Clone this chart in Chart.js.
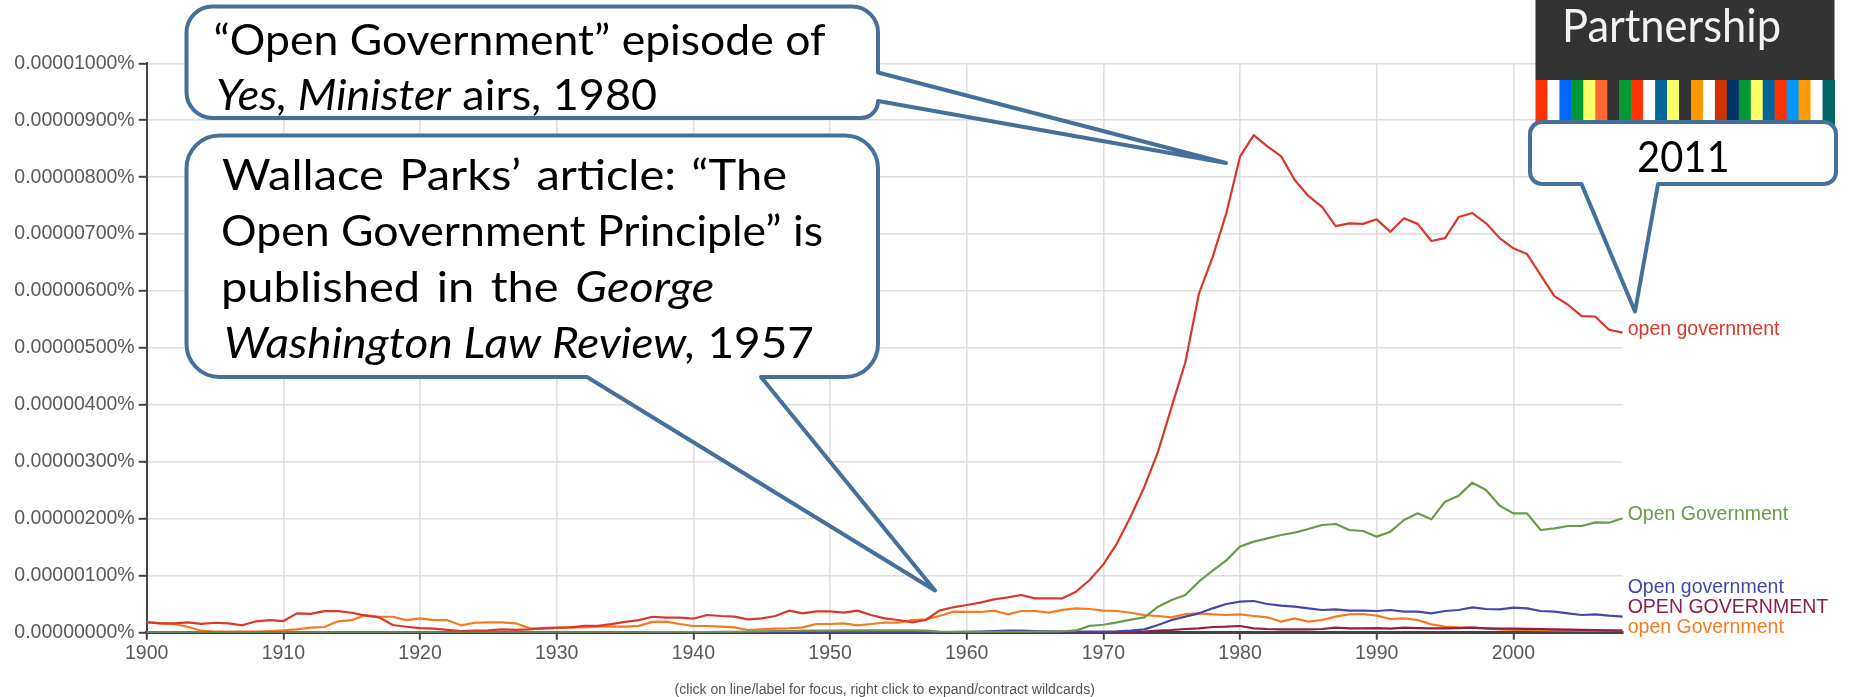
<!DOCTYPE html>
<html>
<head>
<meta charset="utf-8">
<script src="https://cdn.jsdelivr.net/npm/chart.js@4.4.1/dist/chart.umd.min.js"></script>
<style>
  html, body { margin: 0; padding: 0; background: #fff; }
  #wrap { position: relative; width: 1851px; height: 697px; }
</style>
</head>
<body>
<div id="wrap"><canvas id="ngram"></canvas></div>
<script>
// Years on the x axis, 1900..2008
const years = Array.from({ length: 109 }, (_, i) => 1900 + i);
const xTickYears = [1900, 1910, 1920, 1930, 1940, 1950, 1960, 1970, 1980, 1990, 2000];
// y values are in millionths of a percent (10 -> 0.00001000%)
const yTickValues = [0, 1, 2, 3, 4, 5, 6, 7, 8, 9, 10];

const seriesLabels = ['open government', 'Open Government', 'Open government', 'OPEN GOVERNMENT', 'open Government'];
const seriesColors = ['#d9382c', '#6a9a4b', '#4646a8', '#8c1f4e', '#f47b20'];

// "open government"
const openGovLower = [
  0.18, 0.165, 0.165, 0.18, 0.155, 0.175, 0.165, 0.13, 0.2, 0.22,
  0.205, 0.34, 0.33, 0.38, 0.38, 0.35, 0.30, 0.27, 0.135, 0.105,
  0.08, 0.07, 0.05, 0.03, 0.035, 0.04, 0.06, 0.05, 0.06, 0.08,
  0.09, 0.095, 0.12, 0.12, 0.15, 0.19, 0.22, 0.28, 0.264, 0.264,
  0.246, 0.311, 0.293, 0.282, 0.235, 0.252, 0.293, 0.387, 0.34, 0.375,
  0.375, 0.352, 0.387, 0.311, 0.252, 0.223, 0.182, 0.223, 0.387, 0.446,
  0.486, 0.527, 0.586, 0.621, 0.662, 0.604, 0.604, 0.604, 0.72, 0.925,
  1.2, 1.57, 2.04, 2.56, 3.18, 3.97, 4.75, 5.96, 6.6, 7.37,
  8.36, 8.74, 8.54, 8.37, 7.95, 7.67, 7.48, 7.14, 7.19, 7.18,
  7.26, 7.04, 7.28, 7.18, 6.88, 6.93, 7.30, 7.37, 7.19, 6.93,
  6.75, 6.65, 6.28, 5.91, 5.76, 5.56, 5.55, 5.32, 5.27
];

// "Open Government"
const openGovTitle = [
  0.004, 0.004, 0.005, 0.005, 0.004, 0.004, 0.005, 0.005, 0.004, 0.005,
  0.005, 0.006, 0.006, 0.005, 0.005, 0.006, 0.006, 0.005, 0.005, 0.005,
  0.005, 0.005, 0.004, 0.004, 0.005, 0.005, 0.005, 0.005, 0.005, 0.005,
  0.005, 0.006, 0.006, 0.007, 0.007, 0.008, 0.008, 0.009, 0.01, 0.01,
  0.012, 0.012, 0.014, 0.016, 0.02, 0.025, 0.03, 0.03, 0.035, 0.035,
  0.035, 0.04, 0.04, 0.04, 0.04, 0.04, 0.04, 0.035, 0.02, 0.015,
  0.015, 0.015, 0.015, 0.015, 0.015, 0.02, 0.02, 0.025, 0.04, 0.12,
  0.14, 0.18, 0.23, 0.27, 0.457, 0.574, 0.662, 0.9, 1.09, 1.27,
  1.515, 1.599, 1.657, 1.716, 1.757, 1.821, 1.891, 1.909, 1.804, 1.786,
  1.687, 1.774, 1.979, 2.096, 1.991, 2.301, 2.407, 2.635, 2.506, 2.231,
  2.096, 2.096, 1.804, 1.833, 1.874, 1.874, 1.938, 1.932, 2.009
];

// "Open government"
const openGovSentence = [
  0.003, 0.003, 0.003, 0.003, 0.003, 0.003, 0.003, 0.003, 0.003, 0.003,
  0.003, 0.003, 0.003, 0.003, 0.003, 0.003, 0.003, 0.003, 0.003, 0.003,
  0.003, 0.003, 0.003, 0.003, 0.003, 0.003, 0.003, 0.003, 0.003, 0.003,
  0.003, 0.003, 0.003, 0.003, 0.003, 0.003, 0.003, 0.003, 0.003, 0.003,
  0.003, 0.003, 0.003, 0.003, 0.003, 0.003, 0.003, 0.003, 0.003, 0.003,
  0.003, 0.003, 0.004, 0.004, 0.004, 0.005, 0.005, 0.006, 0.008, 0.01,
  0.015, 0.02, 0.03, 0.035, 0.035, 0.03, 0.025, 0.02, 0.02, 0.02,
  0.02, 0.025, 0.036, 0.059, 0.135, 0.223, 0.282, 0.34, 0.428, 0.504,
  0.545, 0.557, 0.504, 0.475, 0.457, 0.428, 0.399, 0.41, 0.387, 0.387,
  0.381, 0.399, 0.369, 0.369, 0.34, 0.381, 0.399, 0.446, 0.416, 0.41,
  0.44, 0.428, 0.381, 0.369, 0.34, 0.311, 0.323, 0.299, 0.282
];

// "OPEN GOVERNMENT"
const openGovUpper = [
  0.002, 0.002, 0.002, 0.002, 0.002, 0.002, 0.002, 0.002, 0.002, 0.002,
  0.002, 0.002, 0.002, 0.002, 0.002, 0.002, 0.002, 0.002, 0.002, 0.002,
  0.002, 0.002, 0.002, 0.002, 0.002, 0.002, 0.002, 0.002, 0.002, 0.002,
  0.002, 0.002, 0.002, 0.002, 0.002, 0.002, 0.002, 0.002, 0.002, 0.002,
  0.002, 0.002, 0.002, 0.002, 0.002, 0.002, 0.002, 0.002, 0.002, 0.002,
  0.002, 0.002, 0.002, 0.002, 0.002, 0.002, 0.002, 0.002, 0.002, 0.002,
  0.002, 0.002, 0.003, 0.003, 0.003, 0.003, 0.003, 0.003, 0.003, 0.003,
  0.004, 0.006, 0.01, 0.02, 0.036, 0.047, 0.065, 0.077, 0.1, 0.106,
  0.118, 0.077, 0.065, 0.059, 0.059, 0.059, 0.065, 0.088, 0.077, 0.077,
  0.082, 0.07, 0.088, 0.082, 0.077, 0.077, 0.082, 0.088, 0.077, 0.07,
  0.07, 0.068, 0.065, 0.06, 0.055, 0.05, 0.045, 0.04, 0.036
];

// "open Government"
const openGovSecondCap = [
  0.19, 0.165, 0.15, 0.105, 0.035, 0.02, 0.02, 0.02, 0.02, 0.03,
  0.04, 0.06, 0.09, 0.1, 0.2, 0.22, 0.31, 0.28, 0.28, 0.22,
  0.25, 0.22, 0.22, 0.13, 0.175, 0.18, 0.18, 0.165, 0.08, 0.065,
  0.085, 0.095, 0.095, 0.105, 0.105, 0.105, 0.12, 0.19, 0.194, 0.153,
  0.118, 0.118, 0.106, 0.094, 0.047, 0.059, 0.071, 0.077, 0.094, 0.153,
  0.153, 0.165, 0.13, 0.153, 0.176, 0.176, 0.223, 0.235, 0.293, 0.369,
  0.364, 0.364, 0.387, 0.323, 0.381, 0.381, 0.352, 0.4, 0.428, 0.416,
  0.387, 0.381, 0.35, 0.31, 0.293, 0.27, 0.328, 0.34, 0.323, 0.311,
  0.323, 0.293, 0.27, 0.194, 0.252, 0.194, 0.223, 0.282, 0.323, 0.328,
  0.299, 0.241, 0.252, 0.223, 0.147, 0.106, 0.094, 0.088, 0.077, 0.059,
  0.05, 0.047, 0.045, 0.042, 0.04, 0.038, 0.036, 0.035, 0.035
];

const seriesValues = [openGovLower, openGovTitle, openGovSentence, openGovUpper, openGovSecondCap];

const TICK_FONT = '"Liberation Sans", Arial, sans-serif';
const CALLOUT_FONT = 'Lato, "Open Sans", sans-serif';
const CALLOUT_BLUE = '#46709c';
const STRIPES = ['#ff3300', '#ffffff', '#0066ff', '#009933', '#ffff66', '#ff6633', '#333333', '#009933',
  '#ff3300', '#ffffff', '#006699', '#ffff66', '#333333', '#ff9900', '#ffffff', '#cc3300', '#003366',
  '#009933', '#ffff66', '#006699', '#ff3300', '#0099ff', '#ff9900', '#ffffff', '#006666'];

// one line of callout text, mixing roman / italic runs, roughly fitted to a width
// (glyph stretch and extra word spacing are both kept small so it still reads naturally)
function drawRich(ctx, segs, x, y, width, size) {
  const tokens = [];
  segs.forEach(s => {
    const font = (s.i ? 'italic ' : '') + size + 'px ' + CALLOUT_FONT;
    s.t.split(/( )/).filter(t => t.length).forEach(t => tokens.push({ t, font }));
  });
  let natural = 0, gaps = 0;
  tokens.forEach(tk => {
    ctx.font = tk.font;
    tk.w = ctx.measureText(tk.t).width;
    natural += tk.w;
    if (tk.t === ' ') gaps++;
  });
  const sx = Math.min(1.12, Math.max(0.95, width / natural));
  const extra = gaps ? Math.max(0, Math.min(4, (width / sx - natural) / gaps)) : 0;
  ctx.save();
  ctx.translate(x, y);
  ctx.scale(sx, 1);
  ctx.fillStyle = '#000';
  ctx.textBaseline = 'alphabetic';
  let cx = 0;
  tokens.forEach(tk => {
    if (tk.t === ' ') { cx += tk.w + extra; return; }
    ctx.font = tk.font;
    ctx.fillText(tk.t, cx, 0);
    cx += tk.w;
  });
  ctx.restore();
}

function strokeCallout(ctx, build) {
  ctx.save();
  ctx.beginPath();
  build(ctx);
  ctx.closePath();
  ctx.fillStyle = '#fff';
  ctx.fill();
  ctx.lineWidth = 4;
  ctx.lineJoin = 'round';
  ctx.strokeStyle = CALLOUT_BLUE;
  ctx.stroke();
  ctx.restore();
}

function drawLogo(ctx) {
  ctx.save();
  ctx.fillStyle = '#333333';
  ctx.fillRect(1535.5, 0, 299, 80);
  const w = 299 / STRIPES.length;
  STRIPES.forEach((c, i) => { ctx.fillStyle = c; ctx.fillRect(1535.5 + i * w, 80, w + 0.5, 48); });
  ctx.font = '46px ' + CALLOUT_FONT;
  ctx.fillStyle = '#f2f2f2';
  ctx.textBaseline = 'alphabetic';
  ctx.fillText('Partnership', 1562, 42, 219);
  ctx.restore();
}

function drawCallouts(ctx) {
  // "Open Government" episode callout
  strokeCallout(ctx, c => {
    const x0 = 186.5, y0 = 6.5, x1 = 878, y1 = 118, r = 26, r2 = 17;
    c.moveTo(x0 + r, y0);
    c.lineTo(x1 - r, y0);
    c.arcTo(x1, y0, x1, y0 + r, r);
    c.lineTo(x1, 72.5);
    c.lineTo(1226, 163);
    c.lineTo(x1, y1 - r2);
    c.arcTo(x1, y1, x1 - r2, y1, r2);
    c.lineTo(x0 + r, y1);
    c.arcTo(x0, y1, x0, y1 - r, r);
    c.lineTo(x0, y0 + r);
    c.arcTo(x0, y0, x0 + r, y0, r);
  });
  drawRich(ctx, [{ t: '\u201cOpen Government\u201d episode of' }], 213.5, 55, 612, 42);
  drawRich(ctx, [{ t: 'Yes, Minister', i: true }, { t: ' airs, 1980' }], 216, 110, 441, 42);

  // Wallace Parks callout
  strokeCallout(ctx, c => {
    const x0 = 186.5, y0 = 135.5, x1 = 878, y1 = 377, r = 33;
    c.moveTo(x0 + r, y0);
    c.lineTo(x1 - r, y0);
    c.arcTo(x1, y0, x1, y0 + r, r);
    c.lineTo(x1, y1 - r);
    c.arcTo(x1, y1, x1 - r, y1, r);
    c.lineTo(761, y1);
    c.lineTo(935, 590.5);
    c.lineTo(587, y1);
    c.lineTo(x0 + r, y1);
    c.arcTo(x0, y1, x0, y1 - r, r);
    c.lineTo(x0, y0 + r);
    c.arcTo(x0, y0, x0 + r, y0, r);
  });
  drawRich(ctx, [{ t: 'Wallace Parks\u2019 article: \u201cThe' }], 222, 190, 565, 42);
  drawRich(ctx, [{ t: 'Open Government Principle\u201d is' }], 221, 245.5, 602, 42);
  drawRich(ctx, [{ t: 'published in the ' }, { t: 'George', i: true }], 221, 301.5, 593, 42);
  drawRich(ctx, [{ t: 'Washington Law Review,', i: true }, { t: ' 1957' }], 224, 357.5, 590, 42);

  // 2011 callout
  strokeCallout(ctx, c => {
    const x0 = 1530, y0 = 122, x1 = 1836, y1 = 184, r = 12;
    c.moveTo(x0 + r, y0);
    c.lineTo(x1 - r, y0);
    c.arcTo(x1, y0, x1, y0 + r, r);
    c.lineTo(x1, y1 - r);
    c.arcTo(x1, y1, x1 - r, y1, r);
    c.lineTo(1658, y1);
    c.lineTo(1635, 311.5);
    c.lineTo(1581.5, y1);
    c.lineTo(x0 + r, y1);
    c.arcTo(x0, y1, x0, y1 - r, r);
    c.lineTo(x0, y0 + r);
    c.arcTo(x0, y0, x0 + r, y0, r);
  });
  drawRich(ctx, [{ t: '2011' }], 1637, 171.5, 92, 42);
}

function drawEndLabels(chart) {
  const ctx = chart.ctx;
  const area = chart.chartArea;
  const items = chart.data.datasets.map((ds, i) => {
    const pts = chart.getDatasetMeta(i).data;
    return { text: ds.label, color: ds.borderColor, y: pts[pts.length - 1].y - 3.5 };
  }).sort((a, b) => b.y - a.y);
  for (let i = 1; i < items.length; i++) items[i].y = Math.min(items[i].y, items[i - 1].y - 20);
  ctx.save();
  ctx.font = '19.5px ' + TICK_FONT;
  ctx.textBaseline = 'middle';
  ctx.textAlign = 'left';
  items.forEach(it => { ctx.fillStyle = it.color; ctx.fillText(it.text, area.right + 5, it.y); });
  ctx.restore();
}

const overlay = {
  id: 'overlay',
  afterDatasetsDraw(chart) { drawEndLabels(chart); },
  afterDraw(chart) {
    const ctx = chart.ctx;
    drawLogo(ctx);
    drawCallouts(ctx);
    ctx.save();
    ctx.font = '14px ' + TICK_FONT;
    ctx.fillStyle = '#555';
    ctx.textAlign = 'center';
    ctx.textBaseline = 'alphabetic';
    const a = chart.chartArea;
    ctx.fillText('(click on line/label for focus, right click to expand/contract wildcards)', (a.left + a.right) / 2, 693.5);
    ctx.restore();
  }
};

new Chart(document.getElementById('ngram'), {
  type: 'line',
  data: {
    datasets: seriesValues.map((vals, i) => ({
      label: seriesLabels[i],
      data: years.map((yr, k) => ({ x: yr, y: vals[k] })),
      borderColor: seriesColors[i],
      backgroundColor: seriesColors[i],
      borderWidth: 2.2,
      pointRadius: 0,
      tension: 0,
      fill: false,
      borderJoinStyle: 'round'
    }))
  },
  options: {
    responsive: true,
    maintainAspectRatio: false,
    animation: false,
    devicePixelRatio: 1,
    layout: { padding: { top: 63.3, right: 228.3, bottom: 0, left: 0 } },
    plugins: { legend: { display: false }, tooltip: { enabled: false } },
    scales: {
      x: {
        type: 'linear',
        min: 1900, max: 2008,
        afterFit: s => { s.height = 64.3; },
        afterBuildTicks: s => { s.ticks = xTickYears.map(v => ({ value: v })); },
        grid: { color: '#dedede', lineWidth: 1.6, tickColor: '#444', tickLength: 7, tickWidth: 2 },
        border: { display: true, color: '#444', width: 3 },
        ticks: { color: '#595959', font: { family: TICK_FONT, size: 19.5 }, padding: 2, maxRotation: 0, callback: v => String(v) }
      },
      y: {
        min: 0, max: 10,
        afterFit: s => { s.width = 146.7; },
        afterBuildTicks: s => { s.ticks = yTickValues.map(v => ({ value: v })); },
        grid: { color: '#dedede', lineWidth: 1.6, tickColor: '#444', tickLength: 8, tickWidth: 2 },
        border: { display: true, color: '#444', width: 2 },
        ticks: {
          color: '#595959', font: { family: TICK_FONT, size: 19.5 }, padding: 4,
          callback: v => (v / 1e6).toFixed(8) + '%'
        }
      }
    }
  },
  plugins: [overlay]
});
</script>
</body>
</html>
